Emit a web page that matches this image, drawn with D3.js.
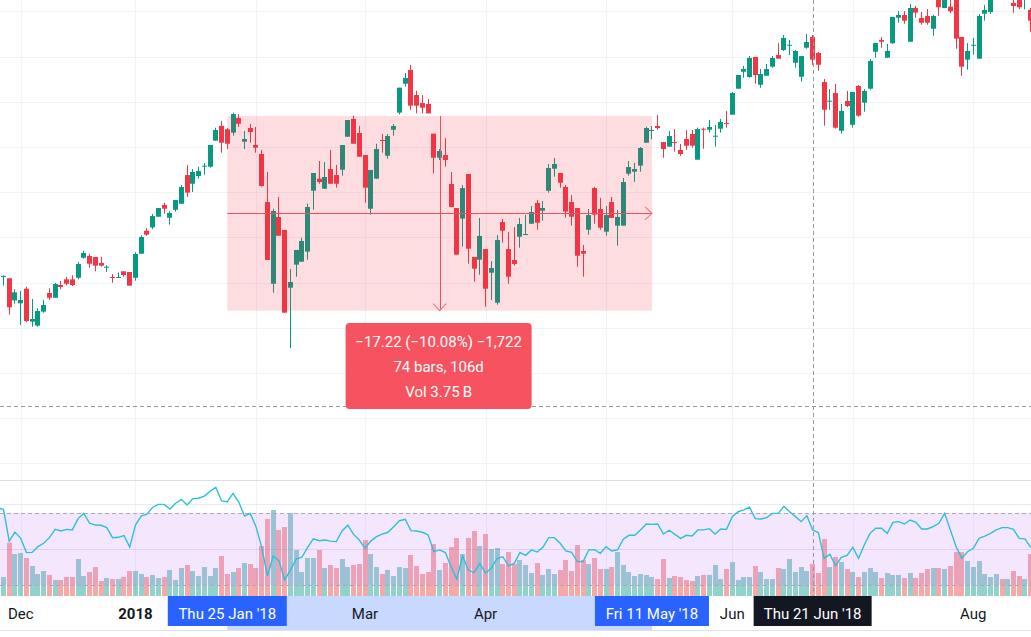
<!DOCTYPE html>
<html>
<head>
<meta charset="utf-8">
<script src="https://cdn.jsdelivr.net/npm/d3@7"></script>
<style>
  body { margin: 0; background: #ffffff; }
  svg { display: block; font-family: Roboto, "Noto Sans", sans-serif; }
</style>
</head>
<body>
<svg id="chart" width="1031" height="637"></svg>
<script>
// daily bars, 27 Nov 2017 .. 15 Aug 2018 (index 0 = first bar)
var open = [
156.40,156.51,156.37,154.42,154.16,155.45,152.53,152.18,153.42,155.07,
154.65,155.78,156.28,156.28,156.42,158.19,158.35,158.26,157.73,157.35,
156.49,156.42,156.99,156.93,156.42,158.55,160.58,160.88,161.82,162.86,
161.73,162.44,162.97,165.51,164.74,165.42,166.28,166.25,168.55,169.85,
169.56,169.26,170.56,168.46,169.67,168.17,167.37,163.12,155.89,161.80,
160.65,155.54,157.58,157.84,158.73,164.12,165.19,164.30,166.04,165.51,
165.98,168.90,170.47,169.23,167.28,162.53,165.19,168.61,167.22,169.52,
171.03,173.59,174.81,172.59,171.88,171.80,169.17,167.04,167.28,164.72,
162.59,161.65,165.60,158.26,158.02,158.96,156.87,154.21,161.35,158.96,
157.99,160.05,160.20,161.20,163.04,162.35,164.12,166.07,165.69,164.45,
163.12,162.59,158.79,160.67,164.36,162.50,160.50,163.12,161.03,161.03,
165.63,165.81,166.34,168.37,169.41,169.85,168.43,168.02,168.43,167.73,
168.70,169.14,166.87,169.61,169.52,168.94,169.61,170.12,170.85,173.15,
174.65,174.19,175.96,173.50,174.30,175.10,176.13,176.58,176.99,175.45,
174.21,176.78,177.73,176.31,173.74,172.04,172.77,169.43,172.06,169.96,
173.39,171.91,173.15,176.42,177.46,175.89,177.17,179.43,179.67,177.31,
180.29,179.41,179.58,178.46,181.35,180.29,180.41,181.27,177.73,175.72,
176.99,175.81,179.79,179.94,181.35,181.88,181.53,180.73,181.18,181.09,
180.12];
var high = [
156.58,156.64,156.42,155.40,155.25,155.63,154.54,153.72,154.45,155.49,
155.96,156.13,156.51,156.64,157.81,158.81,158.52,158.26,158.28,157.52,
156.75,156.90,156.99,156.93,158.67,160.18,160.82,162.06,162.59,163.06,
162.30,163.30,164.63,166.40,166.04,166.25,166.58,168.17,169.70,170.29,
169.67,171.03,170.91,169.41,170.03,169.76,167.73,165.78,162.53,163.57,
160.65,157.19,158.88,159.96,162.97,165.69,166.75,166.66,167.73,166.40,
168.17,170.38,170.76,169.85,167.28,165.96,168.28,169.14,169.14,170.03,
173.24,174.54,175.25,172.97,172.59,172.24,169.17,167.81,168.79,165.78,
162.59,164.63,165.60,158.26,161.71,158.96,157.90,160.20,161.62,160.47,
160.91,161.71,161.97,162.77,163.30,163.21,166.49,167.02,165.69,164.63,
163.74,162.59,159.32,162.50,164.45,163.48,162.77,163.57,162.42,165.25,
166.75,166.58,167.99,169.79,169.85,170.82,168.43,169.41,169.58,168.26,
169.50,169.50,169.70,169.70,170.38,169.94,170.47,171.18,172.86,174.36,
175.16,176.04,175.96,174.89,175.34,176.04,177.19,177.90,177.46,176.58,
176.04,177.99,177.90,176.40,174.01,173.12,173.57,171.80,172.95,172.86,
173.48,173.12,175.78,177.19,177.73,177.11,179.50,180.03,180.03,180.65,
180.47,179.94,180.20,179.67,181.71,181.53,181.18,181.53,177.73,177.19,
177.64,179.76,180.56,181.35,182.24,182.24,182.24,181.18,181.35,182.06,
180.29];
var low = [
155.87,155.72,153.15,154.12,152.24,152.50,152.09,152.09,153.33,154.48,
154.65,155.40,155.75,155.69,156.28,158.11,157.31,156.99,157.40,156.93,
155.98,156.42,156.51,155.72,156.16,158.55,160.14,160.73,161.82,162.09,
161.12,162.27,162.97,163.59,164.01,165.19,165.54,166.16,168.55,167.49,
167.81,168.99,169.76,167.81,168.37,167.49,164.48,157.99,155.10,160.14,
153.33,150.20,156.51,157.84,158.02,162.44,164.74,164.30,164.74,164.39,
165.45,168.90,168.28,167.13,163.06,162.00,165.19,167.49,166.96,168.99,
170.88,173.33,171.27,170.97,170.97,170.97,165.66,166.84,166.25,162.68,
158.46,159.17,157.66,156.07,156.69,153.86,154.45,154.04,159.52,155.89,
157.49,159.08,160.20,161.20,160.67,161.47,163.95,165.36,164.39,161.73,
161.03,157.40,156.51,160.23,161.20,160.67,160.14,161.71,159.26,161.03,
165.45,164.92,165.81,168.37,168.70,169.52,167.04,168.02,167.58,167.22,
167.75,167.93,166.87,167.84,169.26,168.02,169.26,169.70,170.85,173.15,
174.12,174.12,173.59,173.24,174.30,175.01,175.81,176.49,176.13,175.01,
173.77,176.69,175.25,174.74,169.88,171.29,169.61,169.17,171.53,169.70,
170.67,171.12,173.06,175.89,176.78,175.89,177.13,178.99,178.90,177.31,
179.43,178.81,178.81,177.84,179.61,180.29,179.82,176.69,174.30,174.83,
176.16,175.81,179.17,179.76,181.18,181.27,181.27,179.88,180.20,180.18,
178.19];
var close = [
156.13,156.58,153.81,155.13,154.45,152.59,152.77,153.48,154.01,154.65,
155.87,155.60,155.89,155.78,157.64,158.61,157.66,157.49,157.49,157.40,
156.42,156.49,156.66,155.72,158.52,160.03,160.23,161.88,162.59,162.53,
162.15,163.30,164.45,163.95,165.78,165.87,166.34,168.17,169.50,168.37,
168.28,170.91,170.05,168.70,169.32,167.93,164.54,157.99,162.33,160.14,
153.33,156.04,158.88,159.67,162.68,165.69,164.89,165.34,164.74,164.74,
168.17,170.38,168.28,167.13,164.39,165.96,167.81,168.55,168.96,169.85,
173.24,174.10,171.65,171.65,171.47,170.97,167.04,167.64,166.84,162.68,
158.46,164.36,158.99,157.22,160.12,155.45,157.28,159.76,160.58,156.51,
157.64,161.18,160.29,162.24,161.29,162.59,166.13,166.49,164.83,162.27,
161.82,158.37,158.55,161.97,162.00,160.85,161.97,161.71,161.80,164.89,
166.22,166.04,167.90,169.67,169.50,169.67,167.81,168.96,168.37,167.37,
168.11,168.11,169.58,169.56,169.76,168.99,170.20,170.05,172.77,174.36,
174.89,175.87,174.36,174.45,174.89,175.87,175.81,177.64,177.04,176.49,
176.04,177.28,175.72,175.27,171.29,172.09,169.70,171.18,171.62,172.86,
170.76,172.95,175.60,177.19,177.31,176.49,179.50,179.67,179.17,180.29,
179.88,178.99,178.99,179.58,180.35,181.27,180.00,177.58,175.10,176.49,
177.04,179.58,180.12,181.18,181.88,181.53,181.88,180.47,180.35,181.71,
179.17];
// volume, millions
var volume = [
34.0,25.8,72.5,57.1,58.5,51.7,40.8,29.9,34.0,28.6,
21.8,21.8,25.8,25.8,50.3,27.2,32.6,39.4,20.4,24.5,
23.1,23.1,25.8,34.0,34.0,29.9,25.8,28.6,24.5,25.8,
35.4,21.8,38.1,42.2,34.0,27.2,39.4,27.2,38.1,54.4,
29.9,32.6,38.1,44.9,43.5,38.1,68.0,104.7,117.0,89.8,
93.8,112.9,62.6,32.6,51.7,51.7,62.6,38.1,42.2,38.1,
50.3,39.4,42.2,43.5,76.2,57.1,39.4,29.9,35.4,27.2,
39.4,38.1,55.8,40.8,29.9,32.6,70.7,35.4,44.9,66.6,
78.9,57.1,78.9,88.4,68.0,84.3,63.9,65.3,43.5,59.8,
43.5,49.0,42.2,31.3,44.9,28.6,36.7,29.9,35.4,49.0,
34.0,69.4,49.0,43.5,51.7,36.7,36.7,39.4,59.8,42.2,
32.6,27.2,29.9,28.6,25.8,23.1,50.3,24.5,27.2,25.8,
21.8,20.4,27.2,28.6,28.6,42.2,23.1,36.7,46.2,21.8,
25.8,25.8,40.8,32.6,23.1,23.1,38.1,36.7,50.3,32.6,
39.4,34.0,43.5,31.3,77.5,39.4,53.0,46.2,36.7,32.6,
25.8,32.6,38.1,32.6,24.5,31.3,28.6,28.6,24.5,31.3,
24.5,31.3,36.7,38.1,38.1,36.7,40.8,59.8,59.8,47.6,
39.4,47.6,29.9,25.8,29.9,23.1,23.1,34.0,27.2,23.1,
57.1];
var rsi = [
72.8,72.0,54.4,59.4,55.9,48.0,48.1,51.3,53.2,56.3,
60.9,60.0,60.9,60.6,66.9,69.8,64.3,63.3,63.2,61.9,
56.3,56.5,57.4,51.1,63.3,68.3,69.3,73.2,74.8,74.8,
72.2,75.4,77.6,74.4,78.0,78.2,79.4,82.0,84.3,76.7,
76.3,80.9,76.1,68.3,69.8,62.4,50.9,35.0,46.1,43.5,
32.8,38.3,44.4,45.4,50.9,55.7,54.6,55.0,54.4,54.1,
60.0,63.2,58.1,55.0,50.4,54.4,56.9,58.3,59.3,62.4,
65.7,66.5,60.2,60.0,59.3,57.8,48.5,49.5,48.0,40.2,
33.2,46.1,38.3,36.9,41.9,36.7,39.3,44.8,45.7,40.6,
42.0,48.1,46.5,49.5,48.3,50.9,56.3,56.3,53.2,48.9,
48.1,43.0,43.0,49.5,49.6,47.6,51.3,48.9,49.5,55.4,
57.6,57.6,60.6,63.9,63.7,63.9,58.3,60.4,58.1,55.9,
57.6,57.2,60.6,60.6,61.3,58.3,61.1,60.9,68.0,70.7,
71.7,73.2,66.9,66.7,67.4,69.8,69.8,73.7,70.7,68.0,
65.2,68.5,60.6,59.1,44.8,47.0,40.7,45.4,46.5,50.9,
44.8,52.2,58.7,61.5,61.5,58.7,64.8,65.2,63.9,66.1,
64.8,61.1,61.1,62.4,64.3,69.8,60.6,51.3,44.8,48.5,
50.4,55.9,57.2,58.7,60.6,61.9,61.9,60.9,55.9,55.6,
50.9];

var priceGrid = [180, 176, 172, 168, 164, 160, 156, 152, 148, 144, 140];
var monthTicks = [
  { i: 4, label: "Dec" }, { i: 24, label: "2018", bold: true }, { i: 45, label: "Feb" },
  { i: 64, label: "Mar" }, { i: 85, label: "Apr" }, { i: 106, label: "May" },
  { i: 128, label: "Jun" }, { i: 149, label: "Jul" }, { i: 170, label: "Aug" }
];
var measure = { from: 40, to: 114, p0: 170.73, p1: 153.51 };
var measureText = ["\u221217.22 (\u221210.08%) \u22121,722", "74 bars, 106d", "Vol 3.75\u2009B"];
var dateLabels = [
  { i: 40, text: "Thu 25 Jan '18", w: 119, fill: "#2962ff" },
  { i: 114, text: "Fri 11 May '18", w: 114, fill: "#2962ff" },
  { i: 142, text: "Thu 21 Jun '18", w: 118, fill: "#131722" }
];
var cross = { i: 142, price: 145.07 };

var W = 1031, H = 637;
var n = close.length;
var svg = d3.select("#chart");

var x = d3.scaleLinear().domain([0, n - 1]).range([-2.25, 1030.7]);
var y = d3.scaleLinear().domain([181, 140]).range([0, 463.3]);
var yRsi = d3.scaleLinear().domain([70, 30]).range([513, 585]);
var yVol = d3.scaleLinear().domain([0, 100]).range([596, 522.5]);

var up = "#089981", down = "#f23645";
function isUp(i) { return close[i] >= open[i]; }
function left(i) { return Math.round(x(i) - 2.5); }

// grid
svg.append("g").selectAll("line").data(priceGrid).enter().append("line")
  .attr("x1", 0).attr("x2", W)
  .attr("y1", function(d) { return Math.round(y(d)) + 0.5; })
  .attr("y2", function(d) { return Math.round(y(d)) + 0.5; })
  .attr("stroke", "#f0f3fa");
svg.append("g").selectAll("line").data(monthTicks).enter().append("line")
  .attr("x1", function(d) { return Math.round(x(d.i)) + 0.5; })
  .attr("x2", function(d) { return Math.round(x(d.i)) + 0.5; })
  .attr("y1", 0).attr("y2", 596)
  .attr("stroke", "#f0f3fa");

// lower pane lines
svg.append("line").attr("x1", 0).attr("x2", W).attr("y1", 480.5).attr("y2", 480.5).attr("stroke", "#e0dcea");
svg.append("line").attr("x1", 0).attr("x2", W).attr("y1", yRsi(75) + 0.5).attr("y2", yRsi(75) + 0.5).attr("stroke", "#ece8f4");

// volume
svg.append("g").selectAll("rect").data(d3.range(n)).enter().append("rect")
  .attr("x", function(i) { return left(i); })
  .attr("width", 5)
  .attr("y", function(i) { return yVol(volume[i]); })
  .attr("height", function(i) { return 596 - yVol(volume[i]); })
  .attr("fill", function(i) { return isUp(i) ? "rgba(38,166,154,0.5)" : "rgba(239,83,80,0.5)"; });

// rsi band
svg.append("rect").attr("x", 0).attr("width", W)
  .attr("y", yRsi(70)).attr("height", yRsi(30) - yRsi(70))
  .attr("fill", "rgba(195,130,245,0.2)");
svg.append("line").attr("x1", 0).attr("x2", W).attr("y1", yRsi(50) + 0.5).attr("y2", yRsi(50) + 0.5)
  .attr("stroke", "rgba(140,110,190,0.18)");
[70, 30].forEach(function(v) {
  svg.append("line").attr("x1", 0).attr("x2", W)
    .attr("y1", yRsi(v) + 0.5).attr("y2", yRsi(v) + 0.5)
    .attr("stroke", "#a9abb3").attr("stroke-dasharray", "4,3");
});
svg.append("path").datum(d3.range(n))
  .attr("fill", "none").attr("stroke", "#2ec0d8").attr("stroke-width", 1.4)
  .attr("d", d3.line().x(function(i) { return x(i); }).y(function(i) { return yRsi(rsi[i]); }));

// candles
var candles = svg.append("g").selectAll("g").data(d3.range(n)).enter().append("g");
candles.append("rect")
  .attr("x", function(i) { return left(i) + 2; })
  .attr("width", 1)
  .attr("y", function(i) { return y(high[i]); })
  .attr("height", function(i) { return y(low[i]) - y(high[i]); })
  .attr("fill", function(i) { return isUp(i) ? up : down; });
candles.append("rect")
  .attr("x", function(i) { return left(i); })
  .attr("width", 5)
  .attr("y", function(i) { return y(Math.max(open[i], close[i])); })
  .attr("height", function(i) { return Math.max(1, Math.abs(y(open[i]) - y(close[i]))); })
  .attr("fill", function(i) { return isUp(i) ? up : down; });

// measure tool
var mx0 = x(measure.from), mx1 = x(measure.to);
var my0 = y(measure.p0), my1 = y(measure.p1);
var mxc = (mx0 + mx1) / 2, myc = (my0 + my1) / 2;
svg.append("rect").attr("x", mx0).attr("y", my0).attr("width", mx1 - mx0).attr("height", my1 - my0)
  .attr("fill", "rgba(242,54,69,0.17)");
svg.append("line").attr("x1", mx0).attr("x2", mx1).attr("y1", Math.round(myc) + 0.5).attr("y2", Math.round(myc) + 0.5)
  .attr("stroke", "#ef5060").attr("stroke-width", 1);
svg.append("line").attr("x1", Math.round(mxc) + 0.5).attr("x2", Math.round(mxc) + 0.5).attr("y1", my0).attr("y2", my1)
  .attr("stroke", "#ef5060").attr("stroke-width", 1);
svg.append("path").attr("fill", "none").attr("stroke", "#f47a84").attr("stroke-width", 1.2)
  .attr("d", "M" + (mxc - 6.5) + "," + (my1 - 7) + "L" + mxc + "," + my1 + "L" + (mxc + 6.5) + "," + (my1 - 7));
svg.append("path").attr("fill", "none").attr("stroke", "#f47a84").attr("stroke-width", 1.2)
  .attr("d", "M" + (mx1 - 7) + "," + (myc - 6.5) + "L" + mx1 + "," + myc + "L" + (mx1 - 7) + "," + (myc + 6.5));

// crosshair
var cx = Math.round(x(cross.i)) + 0.5, cy = Math.round(y(cross.price)) + 0.5;
svg.append("line").attr("x1", cx).attr("x2", cx).attr("y1", 0).attr("y2", 596)
  .attr("stroke", "#9598a1").attr("stroke-dasharray", "4,3");
svg.append("line").attr("x1", 0).attr("x2", W).attr("y1", cy).attr("y2", cy)
  .attr("stroke", "#9598a1").attr("stroke-dasharray", "4,3");

// measure label
svg.append("rect").attr("x", mxc - 94).attr("y", 323).attr("width", 186).attr("height", 86).attr("rx", 4)
  .attr("fill", "#f7525f");
svg.append("g").selectAll("text").data(measureText).enter().append("text")
  .attr("x", mxc - 1).attr("y", function(d, k) { return 346.5 + k * 25; })
  .attr("text-anchor", "middle").attr("fill", "#ffffff").attr("font-size", 15)
  .text(function(d) { return d; });

// time axis: month labels hidden where a date tag covers them
svg.append("rect").attr("x", mx0).attr("y", 596).attr("width", mx1 - mx0).attr("height", 34)
  .attr("fill", "rgba(41,98,255,0.25)");
svg.append("line").attr("x1", 0).attr("x2", W).attr("y1", 630.5).attr("y2", 630.5).attr("stroke", "#e0e3eb");
var shownTicks = monthTicks.filter(function(d) {
  return dateLabels.every(function(t) { return Math.abs(x(d.i) - x(t.i)) > t.w / 2 + 10; });
});
svg.append("g").selectAll("text").data(shownTicks).enter().append("text")
  .attr("x", function(d) { return x(d.i); }).attr("y", 619)
  .attr("text-anchor", "middle").attr("font-size", 15).attr("fill", "#131722")
  .attr("font-weight", function(d) { return d.bold ? "bold" : "normal"; })
  .text(function(d) { return d.label; });
var tags = svg.append("g").selectAll("g").data(dateLabels).enter().append("g");
tags.append("rect")
  .attr("x", function(d) { return x(d.i) - d.w / 2; }).attr("y", 596)
  .attr("width", function(d) { return d.w; }).attr("height", 30)
  .attr("fill", function(d) { return d.fill; });
tags.append("text")
  .attr("x", function(d) { return x(d.i); }).attr("y", 619)
  .attr("text-anchor", "middle").attr("font-size", 15).attr("fill", "#ffffff")
  .text(function(d) { return d.text; });
</script>
</body>
</html>
